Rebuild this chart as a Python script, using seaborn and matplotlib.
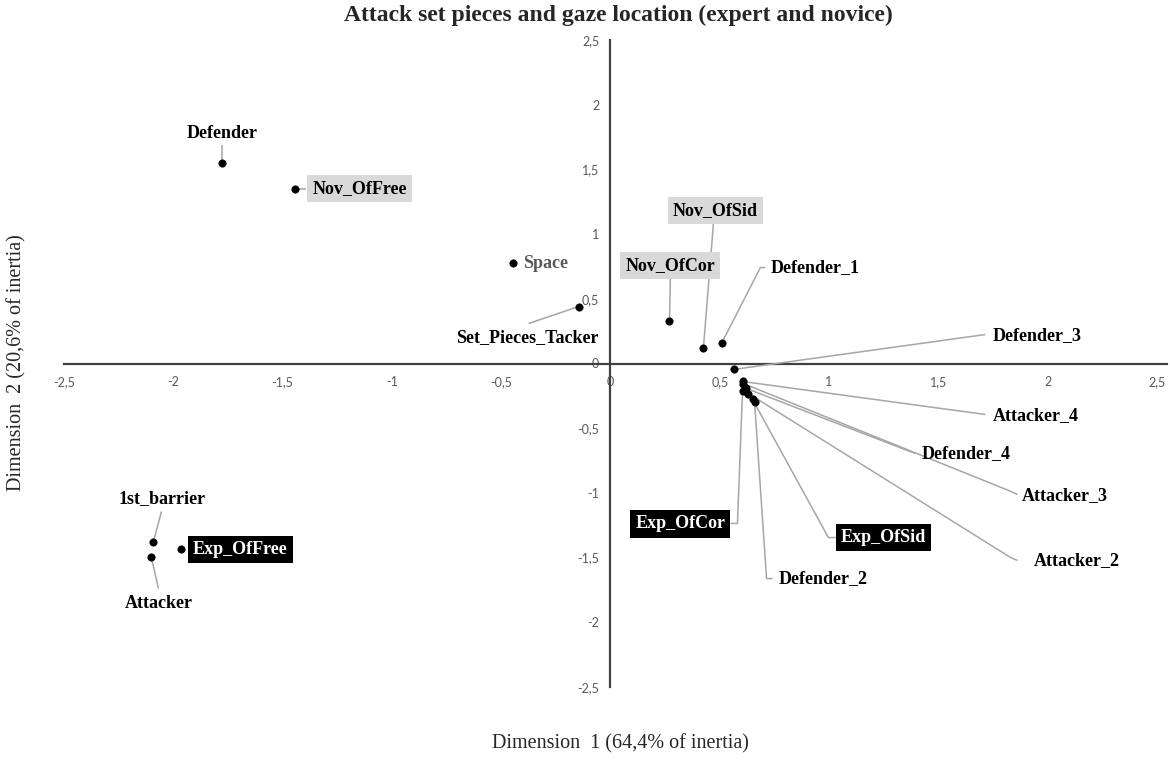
import matplotlib
matplotlib.use("Agg")
import matplotlib.pyplot as plt
import seaborn as sns
import pandas as pd

# --------------------------------------------------------------
# Data
# --------------------------------------------------------------

categories = [
    "Defender", "Nov_OfFree", "Space", "Set_Pieces_Tacker",
    "Nov_OfCor", "Nov_OfSid", "Defender_1", "Defender_3",
    "Attacker_4", "Attacker_3", "Defender_4", "Exp_OfCor",
    "Attacker_2", "Exp_OfSid", "Defender_2",
    "1st_barrier", "Attacker", "Exp_OfFree",
]
dim1 = [
    -1.775, -1.441, -0.448, -0.146,
    0.270, 0.425, 0.508, 0.563,
    0.604, 0.608, 0.622, 0.604,
    0.631, 0.650, 0.659,
    -2.091, -2.100, -1.967,
]
dim2 = [
    1.553, 1.352, 0.780, 0.440,
    0.332, 0.116, 0.155, -0.046,
    -0.139, -0.155, -0.193, -0.216,
    -0.232, -0.278, -0.294,
    -1.376, -1.499, -1.437,
]
group = [
    "loc", "nov", "space", "loc",
    "nov", "nov", "loc", "loc",
    "loc", "loc", "loc", "exp",
    "loc", "exp", "loc",
    "loc", "loc", "exp",
]

tick_values = [-2.5, -2, -1.5, -1, -0.5, 0, 0.5, 1, 1.5, 2, 2.5]
tick_labels = ["-2,5", "-2", "-1,5", "-1", "-0,5", "0", "0,5", "1", "1,5", "2", "2,5"]

title = "Attack set pieces and gaze location (expert and novice)"
xlabel = "Dimension  1 (64,4% of inertia)"
ylabel = "Dimension  2 (20,6% of inertia)"

# label layout: text position, alignment, leader path (after the point)
layout = {
    "Defender": ((-1.775, 1.777), "center", [(-1.775, 1.685)]),
    "Nov_OfFree": ((-1.363, 1.352), "left", [(-1.391, 1.352)]),
    "Space": ((-0.398, 0.773), "left", []),
    "Set_Pieces_Tacker": ((-0.380, 0.201), "center", [(-0.375, 0.309)]),
    "Nov_OfCor": ((0.274, 0.757), "center", [(0.274, 0.665)]),
    "Nov_OfSid": ((0.480, 1.180), "center", [(0.471, 1.082)]),
    "Defender_1": ((0.732, 0.742), "left", [(0.686, 0.742), (0.709, 0.742)]),
    "Defender_3": ((1.747, 0.216), "left", [(1.715, 0.224)]),
    "Attacker_4": ((1.747, -0.402), "left", [(1.715, -0.394)]),
    "Defender_4": ((1.423, -0.696), "left", [(1.395, -0.696)]),
    "Attacker_3": ((1.880, -1.020), "left", [(1.821, -0.981), (1.862, -1.012)]),
    "Attacker_2": ((1.935, -1.522), "left", [(1.830, -1.499), (1.862, -1.522)]),
    "Exp_OfCor": ((0.320, -1.240), "center", [(0.581, -1.236), (0.549, -1.236)]),
    "Exp_OfSid": ((1.249, -1.345), "center", [(0.997, -1.345), (1.030, -1.345)]),
    "Defender_2": ((0.769, -1.662), "left", [(0.714, -1.662), (0.741, -1.662)]),
    "1st_barrier": ((-2.051, -1.043), "center", [(-2.054, -1.144)]),
    "Attacker": ((-2.068, -1.855), "center", [(-2.068, -1.739)]),
    "Exp_OfFree": ((-1.911, -1.437), "left", []),
}

df = pd.DataFrame({"label": categories, "dim1": dim1, "dim2": dim2, "group": group})

# --------------------------------------------------------------
# Plot
# --------------------------------------------------------------

sns.set_theme(style="white")
plt.rcParams["font.family"] = ["Liberation Serif", "DejaVu Serif"]

fig = plt.figure(figsize=(11.7, 7.6), dpi=100)
ax = fig.add_axes([64 / 1170, 73 / 760, 1103 / 1170, 647 / 760])

axis_color = "#404040"
line_color = "#a6a6a6"

sns.scatterplot(
    data=df, x="dim1", y="dim2", color="black", edgecolor="black",
    s=28, linewidth=0.5, legend=False, ax=ax, zorder=4,
)

for _, row in df.iterrows():
    (tx, ty), ha, path = layout[row["label"]]
    if path:
        xs = [row["dim1"]] + [p[0] for p in path]
        ys = [row["dim2"]] + [p[1] for p in path]
        ax.plot(xs, ys, color=line_color, lw=1.1, zorder=2, solid_capstyle="butt")

    style = dict(fontsize=13, fontweight="bold", ha=ha, va="center", zorder=5)
    if row["group"] == "nov":
        style.update(color="black",
                     bbox=dict(boxstyle="square,pad=0.28", fc="#d9d9d9", ec="none"))
    elif row["group"] == "exp":
        style.update(color="white",
                     bbox=dict(boxstyle="square,pad=0.28", fc="black", ec="none"))
    elif row["group"] == "space":
        style.update(color="#595959")
    else:
        style.update(color="black")
    ax.text(tx, ty, row["label"], **style)

ax.set_xlim(-2.5, 2.546)
ax.set_ylim(-2.5, 2.5)

for side in ["top", "right"]:
    ax.spines[side].set_visible(False)
for side in ["bottom", "left"]:
    ax.spines[side].set_position(("data", 0))
    ax.spines[side].set_color(axis_color)
    ax.spines[side].set_linewidth(1.6)
    ax.spines[side].set_zorder(1)

ax.set_xticks(tick_values)
ax.set_xticklabels(tick_labels)
ax.set_yticks(tick_values)
ax.set_yticklabels(tick_labels)
ax.tick_params(axis="both", length=0, labelsize=9, labelcolor="#595959")
ax.tick_params(axis="x", pad=9)
ax.tick_params(axis="y", pad=8)
for lab in ax.get_xticklabels() + ax.get_yticklabels():
    lab.set_family(["Lato", "DejaVu Sans"])
ax.set_xlabel("")
ax.set_ylabel("")
ax.patch.set_alpha(0)

fig.text(618 / 1170, 1 - 15 / 760, title, fontsize=17, fontweight="bold",
         ha="center", va="center")
fig.text(620 / 1170, 1 - 744 / 760, xlabel, fontsize=14.5, ha="center", va="center")
fig.text(17 / 1170, 1 - 363 / 760, ylabel, fontsize=14.5, ha="center", va="center",
         rotation=90)

fig.savefig("out.png", dpi=100)
